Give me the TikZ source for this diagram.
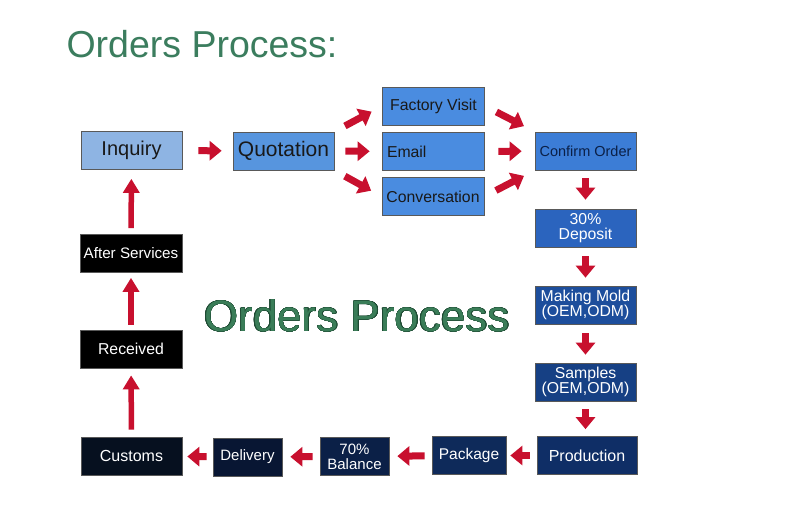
\documentclass[tikz,border=0pt]{standalone}
\usepackage{fontspec}
\setmainfont{Liberation Sans}
\usepackage[copies]{contour}
\contourlength{0.45pt}
\usetikzlibrary{arrows.meta}
\definecolor{cTitle}{HTML}{3B7D5E}
\definecolor{cMid}{HTML}{3A7D58}
\definecolor{cMidEdge}{HTML}{1E4A33}
\definecolor{cArrow}{HTML}{C8102E}
\definecolor{cInq}{HTML}{8EB4E3}
\definecolor{cQuot}{HTML}{5795DE}
\definecolor{cWay}{HTML}{4A8CE0}
\definecolor{cConf}{HTML}{3C7DD6}
\definecolor{cDep}{HTML}{2B64BE}
\definecolor{cMold}{HTML}{1D4E9C}
\definecolor{cSamp}{HTML}{164084}
\definecolor{cProd}{HTML}{0F2E66}
\definecolor{cPack}{HTML}{0E2A5A}
\definecolor{cBal}{HTML}{0B2047}
\definecolor{cDel}{HTML}{081633}
\definecolor{cCust}{HTML}{06101F}
\tikzset{
  box/.style={draw=black!65,line width=0.7pt,minimum height=38pt,inner sep=1pt,align=center,font=\fontsize{15.8}{15.5}\selectfont},
  lbox/.style={box,fill=#1,text=black!90},
  dbox/.style={box,fill=#1,text=white},
  arr/.style={draw=cArrow,line width=7pt,-{Triangle[length=12pt,width=19pt]}},
  uarr/.style={draw=cArrow,line width=5.5pt,-{Triangle[length=14pt,width=16pt]}}}
\begin{document}
\begin{tikzpicture}[x=1pt,y=-1pt]
\useasboundingbox[fill=white] (0,0) rectangle (800,524);
% titles
\node[text=cTitle,font=\fontsize{37.5}{40}\selectfont,anchor=west] (title) at (63,44) {Orders Process:};
\node[text=cMid,font=\fontsize{44}{46}\selectfont] (mid) at (357,316) {\contour{cMidEdge}{Orders Process}};
% top row
\node[lbox=cInq,minimum width=101pt,font=\fontsize{20}{22}\selectfont] (inq) at (131.5,150.5) {Inquiry};
\node[lbox=cQuot,minimum width=101pt,font=\fontsize{21}{22}\selectfont] (quot) at (283.5,151) {Quotation};
\node[lbox=cWay,minimum width=102pt] (fv) at (433.5,106) {Factory Visit};
\node[lbox=cWay,minimum width=102pt,text width=92pt,align=left] (email) at (433,151.5) {Email};
\node[lbox=cWay,minimum width=102pt] (conv) at (433,196.5) {Conversation};
\node[box,fill=cConf,text=cBal,minimum width=101pt,font=\fontsize{14.5}{14}\selectfont] (co) at (585.5,151) {Confirm Order};
% right column
\node[dbox=cDep,minimum width=101pt] (dep) at (585.5,228) {30\%\\Deposit};
\node[dbox=cMold,minimum width=101pt] (mold) at (585.5,305) {Making Mold\\(OEM,ODM)};
\node[dbox=cSamp,minimum width=101pt] (samp) at (585.5,382) {Samples\\(OEM,ODM)};
\node[dbox=cProd,minimum width=100pt,font=\fontsize{16}{16}\selectfont] (prod) at (587,455.5) {Production};
% bottom row
\node[dbox=cPack,minimum width=74pt,font=\fontsize{15.5}{15}\selectfont] (pack) at (469,455.5) {Package};
\node[dbox=cBal,minimum width=69pt,font=\fontsize{15}{15}\selectfont] (bal) at (354.5,456.5) {70\%\\Balance};
\node[dbox=cDel,minimum width=69pt,font=\fontsize{15}{15}\selectfont] (del) at (247.5,457) {Delivery};
\node[dbox=cCust,minimum width=101pt,font=\fontsize{16}{16}\selectfont] (cust) at (131.5,456) {Customs};
% left column
\node[dbox=black,minimum width=102pt] (rec) at (131,349) {Received};
\node[dbox=black,minimum width=102pt,font=\fontsize{15.2}{15}\selectfont] (aft) at (131,253.5) {After Services};
% arrows
\draw[arr,shorten <=16pt,shorten >=11pt] (inq) -- (quot);
\draw[arr,shorten <=12pt,shorten >=12pt] (quot.north east) -- (fv.west);
\draw[arr,shorten <=11pt,shorten >=12pt] (quot) -- (email);
\draw[arr,shorten <=12pt,shorten >=12pt] (quot.south east) -- (conv.west);
\draw[arr,shorten <=13pt,shorten >=12pt] (fv.east) -- (co.north west);
\draw[arr,shorten <=14pt,shorten >=13pt] (email) -- (co);
\draw[arr,shorten <=13pt,shorten >=12pt] (conv.east) -- (co.south west);
\draw[arr,shorten <=8pt,shorten >=9pt] (co) -- (dep);
\draw[arr,shorten <=9pt,shorten >=8pt] (dep) -- (mold);
\draw[arr,shorten <=9pt,shorten >=8pt] (mold) -- (samp);
\draw[arr,shorten <=8pt,shorten >=7pt] (samp.south) -- (samp.south |- prod.north);
\draw[arr,shorten <=7pt,shorten >=4pt] (prod) -- (pack);
\draw[arr,shorten <=7pt,shorten >=8pt] (pack) -- (bal);
\draw[arr,shorten <=7pt,shorten >=8pt] (bal) -- (del);
\draw[arr,shorten <=6pt,shorten >=5pt] (del) -- (cust);
\draw[uarr,shorten <=7pt,shorten >=7pt] (cust) -- (rec);
\draw[uarr,shorten <=5pt,shorten >=5pt] (rec) -- (aft);
\draw[uarr,shorten <=6pt,shorten >=9pt] (aft) -- (inq);
\end{tikzpicture}
\end{document}
